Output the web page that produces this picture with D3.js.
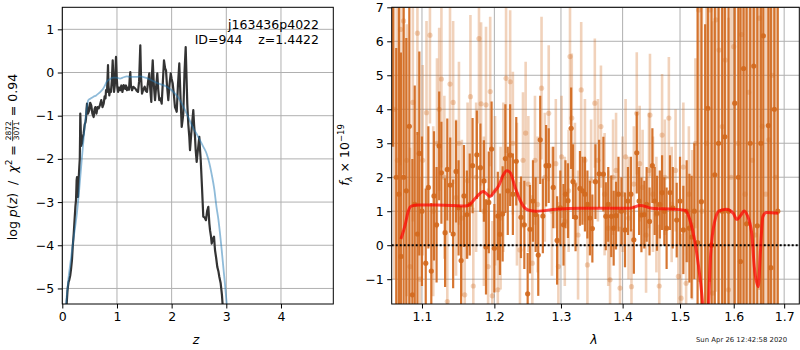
<!DOCTYPE html>
<html>
<head>
<meta charset="utf-8">
<script src="https://cdn.jsdelivr.net/npm/d3@7"></script>
<style>
  body { margin: 0; background: #fff; }
  svg { font-family: "DejaVu Sans", sans-serif; }
  .grid line { stroke: #b0b0b0; stroke-width: 1; }
  .tick line { stroke: #000; stroke-width: 1; }
  .tick text { font-size: 12.5px; fill: #000; }
</style>
</head>
<body>
<svg id="chart" width="800" height="350"></svg>
<script>
// ---- p(z) panel ----
const zTicks = [0, 1, 2, 3, 4];
const pzTicks = [-5, -4, -3, -2, -1, 0, 1];

// noisy log p(z) (dark)
const pzData = [
  [0.08,-5.36],[0.095,-5.05],[0.104,-4.95],[0.115,-4.85],[0.128,-4.8],[0.145,-4.7],[0.16,-4.55],[0.177,-4.34],
  [0.19,-4.05],[0.209,-3.73],[0.225,-3.4],[0.24,-3.1],[0.251,-2.95],[0.262,-2.5],[0.269,-2.42],[0.278,-2.7],
  [0.287,-2.88],[0.298,-2.5],[0.311,-2.19],[0.32,-2.0],[0.325,-1.5],[0.329,-0.95],[0.335,-1.2],[0.345,-1.7],
  [0.36,-1.64],[0.375,-1.5],[0.391,-1.41],[0.41,-1.2],[0.425,-1.15],[0.434,-1.06],[0.443,-0.85],[0.452,-0.72],
  [0.47,-0.95],[0.494,-0.87],[0.51,-0.7],[0.53,-0.76],[0.55,-0.95],[0.574,-1.03],[0.59,-0.85],[0.604,-0.8],
  [0.625,-0.95],[0.645,-0.8],[0.666,-0.83],[0.69,-0.75],[0.713,-0.64],[0.735,-0.8],[0.757,-0.72],[0.775,-0.55],
  [0.79,-0.6],[0.8,-0.41],[0.818,-0.45],[0.828,-0.1],[0.836,0.17],[0.845,-0.3],[0.86,-0.53],[0.875,-0.4],
  [0.89,-0.45],[0.905,-0.2],[0.922,0.28],[0.935,-0.2],[0.946,-0.45],[0.96,-0.3],[0.972,0.05],[0.982,0.36],
  [0.995,-0.1],[1.006,-0.33],[1.02,-0.45],[1.04,-0.35],[1.061,-0.41],[1.08,-0.3],[1.1,-0.45],[1.123,-0.29],
  [1.15,-0.38],[1.165,-0.3],[1.183,-0.41],[1.2,-0.35],[1.22,-0.4],[1.235,-0.1],[1.244,0.01],[1.255,-0.3],
  [1.275,-0.41],[1.3,-0.33],[1.335,-0.37],[1.36,-0.42],[1.385,-0.45],[1.405,-0.2],[1.418,0.3],[1.427,0.63],
  [1.44,-0.1],[1.458,-0.49],[1.48,-0.4],[1.507,-0.33],[1.525,-0.42],[1.549,-0.45],[1.57,-0.2],[1.591,-0.02],
  [1.61,-0.4],[1.628,-0.68],[1.642,0.0],[1.654,0.28],[1.675,-0.3],[1.696,-0.64],[1.718,-0.3],[1.738,-0.02],
  [1.755,-0.4],[1.774,-0.64],[1.795,-0.6],[1.818,-0.72],[1.84,-0.2],[1.86,0.28],[1.88,0.1],[1.897,0.05],
  [1.915,-0.3],[1.939,-0.64],[1.96,-0.3],[1.983,-0.02],[2.0,-0.15],[2.019,-0.25],[2.04,-0.5],[2.061,-0.8],
  [2.077,-0.85],[2.093,-0.91],[2.115,-0.3],[2.14,0.21],[2.16,-0.5],[2.184,-1.26],[2.2,-1.1],[2.213,-0.95],
  [2.235,0.0],[2.257,0.59],[2.272,-0.1],[2.286,-0.72],[2.305,-1.2],[2.323,-1.49],[2.336,-1.8],[2.36,-1.4],
  [2.38,-1.1],[2.396,-0.87],[2.41,-1.2],[2.427,-1.49],[2.44,-1.8],[2.458,-2.07],[2.48,-1.8],[2.506,-1.49],
  [2.52,-1.8],[2.532,-2.03],[2.555,-2.65],[2.579,-3.34],[2.6,-3.35],[2.628,-3.42],[2.65,-3.2],[2.671,-3.11],
  [2.69,-3.5],[2.702,-3.65],[2.72,-3.8],[2.733,-3.96],[2.755,-3.85],[2.775,-3.8],[2.793,-4.11],[2.815,-4.3],
  [2.835,-4.5],[2.855,-4.6],[2.872,-4.73],[2.897,-4.88],[2.92,-5.15],[2.934,-5.4]
];

// smooth prior-weighted p(z) (blue)
const pzModel = [
  [0.06,-5.5],[0.08,-5.2],[0.11,-4.8],[0.16,-4.3],[0.21,-3.8],[0.26,-3.34],[0.31,-2.7],[0.355,-2.03],
  [0.385,-1.6],[0.415,-1.18],[0.445,-0.85],[0.475,-0.64],[0.52,-0.6],[0.57,-0.56],[0.62,-0.53],[0.66,-0.49],
  [0.71,-0.43],[0.75,-0.37],[0.78,-0.3],[0.81,-0.22],[0.86,-0.16],[0.93,-0.12],[0.99,-0.12],[1.055,-0.14],
  [1.12,-0.11],[1.18,-0.09],[1.24,-0.1],[1.30,-0.1],[1.36,-0.1],[1.42,-0.09],[1.5,-0.11],[1.57,-0.14],
  [1.65,-0.19],[1.73,-0.24],[1.82,-0.28],[1.91,-0.33],[2.0,-0.41],[2.09,-0.53],[2.17,-0.68],[2.245,-0.87],
  [2.32,-1.08],[2.40,-1.30],[2.46,-1.43],[2.52,-1.57],[2.58,-1.72],[2.64,-1.88],[2.69,-2.1],[2.73,-2.34],
  [2.78,-2.7],[2.82,-3.11],[2.855,-3.4],[2.885,-3.73],[2.915,-4.1],[2.945,-4.5],[2.975,-4.9],[3.007,-5.34],
  [3.02,-5.5]
];

// ---- spectrum panel ----
const lamTicks = [1.1, 1.2, 1.3, 1.4, 1.5, 1.6, 1.7];
const fluxTicks = [-1, 0, 1, 2, 3, 4, 5, 6, 7];

// [lambda, flux, err] - darker spectrum
const specDark = [
  [1.0625,7.6,4.7],[1.0665,2.0,3.8],[1.0700,1.5,5.5],[1.0725,-0.33,6.0],[1.0760,2.0,5.0],[1.0795,1.6,4.5],
  [1.0834,3.5,5.5],[1.0874,-1.46,4.0],[1.0905,1.2,3.5],[1.0940,0.33,3.0],[1.0965,2.7,3.0],[1.1000,1.0,2.2],
  [1.1050,-0.53,2.2],[1.1085,1.7,1.8],[1.1124,-0.76,2.0],[1.1160,1.45,1.9],[1.1195,0.6,1.7],[1.1230,2.92,1.6],
  [1.1260,2.13,1.5],[1.1310,0.37,1.6],[1.1340,2.23,1.5],[1.1380,1.77,1.4],[1.1420,0.33,1.6],[1.1460,2.17,1.5],
  [1.1495,1.1,1.4],[1.1530,-0.45,1.6],[1.1570,1.45,1.5],[1.1610,0.9,1.3],[1.1650,1.2,1.5],[1.1690,2.34,1.4],
  [1.1750,2.66,1.3],[1.1800,2.28,1.3],[1.1850,1.89,1.2],[1.1880,-0.05,1.4],[1.1920,1.26,1.5],[1.1960,2.83,1.4],
  [1.2000,-0.09,1.3],[1.2050,0.86,1.3],[1.2080,0.32,1.2],[1.2120,0.92,1.4],[1.2160,2.55,1.6],[1.2195,1.6,1.3],
  [1.2230,2.65,1.5],[1.2270,1.5,1.2],[1.2320,2.47,1.3],[1.2390,0.82,1.2],[1.2440,0.6,1.3],[1.2490,-1.43,1.2],
  [1.2525,0.47,1.3],[1.2570,1.3,1.2],[1.2610,0.9,1.1],[1.2650,-0.29,1.2],[1.2680,3.1,1.3],[1.2720,0.86,1.1],
  [1.2770,2.34,1.2],[1.2810,2.34,1.1],[1.2880,1.7,1.2],[1.2940,0.14,1.3],[1.2990,1.1,1.1],[1.3040,0.6,1.2],
  [1.3070,1.5,1.0],[1.3110,1.31,1.1],[1.3160,3.44,1.2],[1.3190,1.87,1.1],[1.3230,0.82,1.0],[1.3300,1.67,1.1],
  [1.3340,1.6,1.0],[1.3380,1.5,1.1],[1.3420,1.2,1.0],[1.3460,0.8,1.1],[1.3500,0.49,1.0],[1.3550,1.87,1.1],
  [1.3610,2.1,1.0],[1.3680,2.09,1.1],[1.3720,0.85,1.0],[1.3760,1.2,1.1],[1.3810,0.85,1.2],[1.3850,0.5,1.1],
  [1.3890,0.87,1.0],[1.3930,1.5,1.1],[1.3980,1.0,1.0],[1.4040,0.45,1.1],[1.4090,1.3,1.0],[1.4140,1.5,1.1],
  [1.4190,0.16,1.0],[1.4240,2.72,1.2],[1.4280,1.3,1.0],[1.4320,0.89,1.1],[1.4370,0.9,1.0],[1.4410,1.2,1.1],
  [1.4460,0.7,1.0],[1.4510,2.34,1.1],[1.4550,1.3,1.0],[1.4590,0.94,1.1],[1.4640,1.2,1.0],[1.4680,1.55,1.1],
  [1.4720,1.0,1.0],[1.4760,0.5,1.2],[1.4820,1.55,1.1],[1.4870,1.1,1.2],[1.4940,0.74,1.1],[1.5000,1.3,1.3],
  [1.5060,0.45,1.3],[1.5120,1.0,1.5],[1.5170,0.5,1.6],[1.5210,0.24,1.8],[1.5260,1.0,2.0],[1.5320,0.08,9],
  [1.5390,1.28,9],[1.5460,-2.5,9],[1.5510,4.03,11],[1.5580,0.0,10],[1.5640,2.07,10],[1.5710,3.0,10],
  [1.5780,1.0,10],[1.5830,3.19,10],[1.5900,1.0,10],[1.6020,4.18,10],[1.6090,2.0,10],[1.6130,-0.48,10],
  [1.6190,5.2,10],[1.6250,0.63,10],[1.6320,3.0,10],[1.6390,5.27,10],[1.6460,0.57,10],[1.6530,3.0,10],
  [1.6580,6.16,10],[1.6680,3.52,10],[1.6730,-0.66,10],[1.6800,4.0,10],[1.6870,1.0,10]
];

// [lambda, flux, err] - faint spectrum
const specLight = [
  [1.0640,4.0,5],[1.0680,2.5,5],[1.0720,6.35,4],[1.0760,6.6,4.5],[1.0800,2.5,4],[1.0843,-0.63,3.5],
  [1.0880,4.2,3.5],[1.0940,6.24,3],[1.0974,-1.0,3],[1.1010,2.5,2.8],[1.1060,3.9,2.7],[1.1106,6.18,2.6],
  [1.1150,1.0,2.5],[1.1200,3.0,2.5],[1.1230,4.0,2.4],[1.1260,4.89,2.6],[1.1300,2.0,2.4],[1.1340,-1.66,2.4],
  [1.1377,4.74,2.5],[1.1420,4.2,2.4],[1.1460,1.4,2.3],[1.1500,3.0,2.4],[1.1540,0.8,2.3],[1.1580,-1.46,2.4],
  [1.1620,1.9,2.3],[1.1660,4.37,2.4],[1.1700,-1.2,2.3],[1.1740,2.0,2.2],[1.1780,6.08,2.5],[1.1810,4.16,2.4],
  [1.1850,1.0,2.2],[1.1880,4.13,2.3],[1.1910,-0.63,2.3],[1.1940,4.52,2.2],[1.1970,-1.49,2.2],[1.2010,1.6,2.2],
  [1.2050,-1.31,2.3],[1.2090,0.8,2.1],[1.2130,2.0,2.2],[1.2170,4.91,2.2],[1.2230,4.81,2.1],[1.2270,3.0,2.1],
  [1.2330,1.5,2.1],[1.2375,-0.14,2.0],[1.2420,2.5,2.0],[1.2460,3.3,2.1],[1.2500,1.8,2.0],[1.2560,-0.53,2.0],
  [1.2600,2.5,1.9],[1.2640,1.2,2.0],[1.2700,4.62,2.1],[1.2750,2.0,1.9],[1.2810,3.88,2.0],[1.2860,1.0,1.9],
  [1.2920,2.4,1.9],[1.2960,-0.63,1.9],[1.3010,2.6,1.8],[1.3060,0.7,1.9],[1.3120,1.6,1.8],[1.3142,5.55,2.0],
  [1.3170,3.74,1.9],[1.3220,1.8,1.8],[1.3270,0.3,1.9],[1.3320,4.57,2.0],[1.3380,2.5,1.8],[1.3420,-0.58,1.8],
  [1.3480,1.9,1.8],[1.3540,4.18,1.9],[1.3590,2.5,1.8],[1.3640,3.49,1.8],[1.3700,1.5,1.8],[1.3760,0.5,1.7],
  [1.3790,-1.02,1.8],[1.3840,2.0,1.7],[1.3890,2.2,1.7],[1.3956,-1.26,1.8],[1.4000,1.5,1.7],[1.4050,2.6,1.7],
  [1.4100,0.8,1.8],[1.4150,-1.22,1.7],[1.4190,1.8,1.7],[1.4240,3.88,1.8],[1.4290,2.4,1.7],[1.4340,1.7,1.7],
  [1.4400,0.3,1.7],[1.4450,2.2,1.7],[1.4468,3.83,1.8],[1.4520,1.5,1.7],[1.4580,0.9,1.7],[1.4630,-1.2,1.8],
  [1.4680,3.24,1.8],[1.4730,2.0,1.7],[1.4800,3.74,1.8],[1.4850,1.2,1.7],[1.4920,2.2,1.8],[1.4970,-0.92,1.9],
  [1.5020,-1.56,1.9],[1.5060,2.3,1.9],[1.5110,-1.12,2.0],[1.5160,1.5,2.0],[1.5220,0.6,2.2],[1.5280,3.0,2.5],
  [1.5340,6.92,8],[1.5400,1.0,8],[1.5480,3.0,8],[1.5550,6.92,8],[1.5600,-1.41,8],[1.5660,6.63,8],
  [1.5720,5.74,8],[1.5780,3.49,8],[1.5840,5.45,8],[1.5900,-1.31,8],[1.5950,2.0,8],[1.6000,5.84,8],
  [1.6080,3.0,8],[1.6150,6.2,8],[1.6220,1.5,8],[1.6290,4.5,8],[1.6360,2.5,8],[1.6420,0.3,8],
  [1.6500,6.68,8],[1.6560,3.5,8],[1.6630,1.5,8],[1.6690,3.1,8],[1.6760,5.0,8],[1.6830,2.0,8]
];

// best-fit template [lambda, flux]
const specModel = [
  [1.0725,0.18],[1.078,0.6],[1.082,1.0],[1.086,1.15],[1.095,1.18],[1.12,1.18],[1.14,1.17],[1.158,1.15],
  [1.165,1.2],[1.175,1.43],[1.184,1.58],[1.188,1.53],[1.194,1.43],[1.199,1.55],[1.206,1.74],[1.213,2.07],
  [1.218,2.19],[1.223,2.14],[1.230,1.72],[1.2375,1.33],[1.245,1.09],[1.2525,1.02],[1.262,1.0],[1.292,1.06],
  [1.33,1.09],[1.37,1.09],[1.412,1.09],[1.43,1.17],[1.45,1.09],[1.49,1.06],[1.51,1.02],[1.518,0.74],
  [1.526,0.2],[1.531,-0.3],[1.5396,-1.41],[1.543,-2.0],[1.548,-2.4],[1.552,-1.8],[1.5563,-0.24],[1.5644,0.74],
  [1.5724,1.01],[1.586,1.06],[1.599,0.94],[1.606,0.76],[1.614,0.89],[1.62,1.01],[1.626,0.89],[1.635,0.35],
  [1.64,-0.63],[1.648,-1.22],[1.652,-0.23],[1.657,0.84],[1.664,0.96],[1.688,0.94]
];

const svg = d3.select("#chart");
const orange = "#d2691e";

const xL = d3.scaleLinear().domain([0, 4.957]).range([62.3, 333.3]);
const yL = d3.scaleLinear().domain([-5.36, 1.51]).range([304, 7.3]);
const xR = d3.scaleLog().domain([1.0607, 1.7312]).range([391.7, 799.3]);
const yR = d3.scaleLinear().domain([-1.73, 7]).range([304, 7.3]);

function addClip(id, x, y) {
  svg.append("clipPath").attr("id", id).append("rect")
    .attr("x", x.range()[0]).attr("y", y.range()[1])
    .attr("width", x.range()[1] - x.range()[0])
    .attr("height", y.range()[0] - y.range()[1]);
}

function drawGrid(x, y, xt, yt) {
  const g = svg.append("g").attr("class", "grid");
  g.selectAll(".gx").data(xt).join("line")
    .attr("x1", d => x(d)).attr("x2", d => x(d))
    .attr("y1", y.range()[0]).attr("y2", y.range()[1]);
  g.selectAll(".gy").data(yt).join("line")
    .attr("x1", x.range()[0]).attr("x2", x.range()[1])
    .attr("y1", d => y(d)).attr("y2", d => y(d));
}

function drawAxes(x, y, xt, yt, xf, yf) {
  svg.append("g")
    .attr("transform", `translate(0,${y.range()[0]})`)
    .call(d3.axisBottom(x).tickValues(xt).tickFormat(xf).tickSizeOuter(0).tickSize(4.5).tickPadding(4))
    .call(a => a.select(".domain").remove())
    .attr("font-size", null).attr("font-family", null);
  svg.append("g")
    .attr("transform", `translate(${x.range()[0]},0)`)
    .call(d3.axisLeft(y).tickValues(yt).tickFormat(yf).tickSizeOuter(0).tickSize(4.5).tickPadding(3.5))
    .call(a => a.select(".domain").remove())
    .attr("font-size", null).attr("font-family", null);
  svg.append("rect")
    .attr("x", x.range()[0]).attr("y", y.range()[1])
    .attr("width", x.range()[1] - x.range()[0])
    .attr("height", y.range()[0] - y.range()[1])
    .attr("fill", "none").attr("stroke", "#000").attr("stroke-width", 1);
}

function drawPz() {
  addClip("clipL", xL, yL);
  drawGrid(xL, yL, zTicks, pzTicks);

  const line = d3.line().x(d => xL(d[0])).y(d => yL(d[1]));
  const g = svg.append("g").attr("clip-path", "url(#clipL)");
  g.append("path").datum(pzData)
    .attr("d", line).attr("fill", "none")
    .attr("stroke", "#333").attr("stroke-width", 2.2).attr("stroke-linejoin", "round");
  g.append("path").datum(pzModel)
    .attr("d", line.curve(d3.curveMonotoneX)).attr("fill", "none")
    .attr("stroke", "#1f77b4").attr("stroke-opacity", 0.5).attr("stroke-width", 1.8);

  drawAxes(xL, yL, zTicks, pzTicks, d3.format("d"), d3.format("d"));

  svg.append("text").attr("x", 319).attr("y", 28.5)
    .attr("text-anchor", "end").attr("font-size", 12.5).text("j163436p4022");
  svg.append("text").attr("x", 319).attr("y", 44)
    .attr("text-anchor", "end").attr("font-size", 12.5)
    .style("white-space", "pre").text("ID=944    z=1.4422");

  svg.append("text").attr("x", 196).attr("y", 344)
    .attr("text-anchor", "middle").attr("font-size", 12.5)
    .attr("font-style", "italic").text("z");

  // y label with fraction
  const lab = svg.append("g").attr("transform", "translate(17,157) rotate(-90)");
  const inner = lab.append("g");
  const t1 = inner.append("text").attr("font-size", 12.5).style("white-space", "pre");
  t1.append("tspan").text("log ");
  t1.append("tspan").attr("font-style", "italic").text("p");
  t1.append("tspan").text("(");
  t1.append("tspan").attr("font-style", "italic").text("z");
  t1.append("tspan").text(")  /  ");
  t1.append("tspan").attr("font-style", "italic").text("χ");
  t1.append("tspan").attr("font-size", 9).attr("dy", -5).text("2");
  t1.append("tspan").attr("dy", 5).text(" = ");
  const w1 = t1.node().getComputedTextLength();
  const num = inner.append("text").attr("font-size", 7.5).attr("text-anchor", "middle")
    .attr("y", -5.8).text("2872");
  const fw = num.node().getComputedTextLength() + 2;
  num.attr("x", w1 + fw / 2);
  inner.append("text").attr("font-size", 7.5).attr("text-anchor", "middle")
    .attr("x", w1 + fw / 2).attr("y", 2).text("3071");
  inner.append("line").attr("x1", w1).attr("x2", w1 + fw)
    .attr("y1", -4.4).attr("y2", -4.4).attr("stroke", "#000").attr("stroke-width", 0.7);
  const t3 = inner.append("text").attr("font-size", 12.5).style("white-space", "pre")
    .attr("x", w1 + fw).text(" = 0.94");
  const total = w1 + fw + t3.node().getComputedTextLength();
  inner.attr("transform", `translate(${-total / 2},0)`);
}

function errorSeries(g, data, opacity, width, r) {
  g.selectAll(null).data(data).join("line")
    .attr("x1", d => xR(d[0])).attr("x2", d => xR(d[0]))
    .attr("y1", d => yR(d[1] - d[2])).attr("y2", d => yR(d[1] + d[2]))
    .attr("stroke", orange).attr("stroke-width", width).attr("stroke-opacity", opacity);
  g.selectAll(null).data(data).join("circle")
    .attr("cx", d => xR(d[0])).attr("cy", d => yR(d[1])).attr("r", r)
    .attr("fill", orange).attr("fill-opacity", opacity);
}

function drawSpec() {
  addClip("clipR", xR, yR);
  drawGrid(xR, yR, lamTicks, fluxTicks);

  const g = svg.append("g").attr("clip-path", "url(#clipR)");
  errorSeries(g.append("g"), specDark, 0.92, 2.2, 2.6);
  errorSeries(g.append("g"), specLight, 0.3, 2.6, 2.6);

  g.append("line")
    .attr("x1", xR.range()[0]).attr("x2", xR.range()[1])
    .attr("y1", yR(0)).attr("y2", yR(0))
    .attr("stroke", "#000").attr("stroke-width", 2).attr("stroke-dasharray", "2,2");

  g.append("path").datum(specModel)
    .attr("d", d3.line().x(d => xR(d[0])).y(d => yR(d[1])).curve(d3.curveMonotoneX))
    .attr("fill", "none").attr("stroke", "red").attr("stroke-opacity", 0.7)
    .attr("stroke-width", 3).attr("stroke-linejoin", "round");

  drawAxes(xR, yR, lamTicks, fluxTicks, d3.format(".1f"), d3.format("d"));

  svg.append("text").attr("x", 594).attr("y", 344)
    .attr("text-anchor", "middle").attr("font-size", 12.5)
    .attr("font-style", "italic").text("λ");

  const lab = svg.append("text").attr("transform", "translate(349,155) rotate(-90)")
    .attr("text-anchor", "middle").attr("font-size", 12.5);
  lab.append("tspan").attr("font-style", "italic").text("f");
  lab.append("tspan").attr("font-size", 8.5).attr("dy", 3).attr("font-style", "italic").text("λ");
  lab.append("tspan").attr("dy", -3).text(" × 10");
  lab.append("tspan").attr("font-size", 8.5).attr("dy", -5).text("−19");

  svg.append("text").attr("x", 696).attr("y", 341.5)
    .attr("font-size", 6.9).attr("fill", "#222").text("Sun Apr 26 12:42:58 2020");
}

drawPz();
drawSpec();
</script>
</body>
</html>
